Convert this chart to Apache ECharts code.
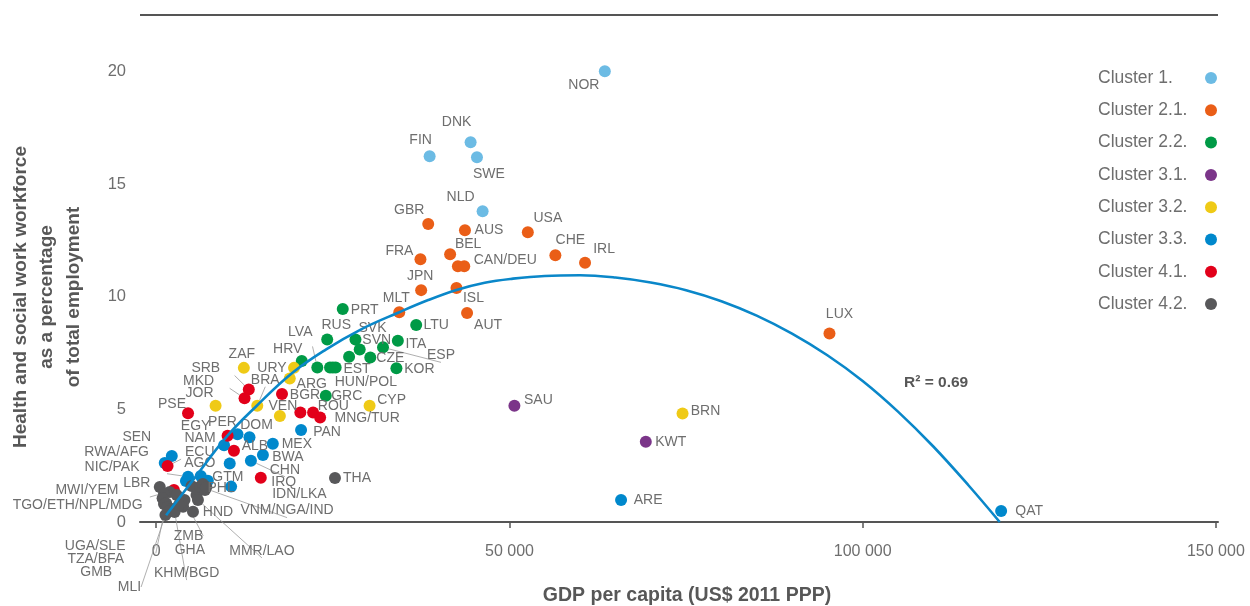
<!DOCTYPE html>
<html><head><meta charset="utf-8">
<script src="https://cdn.jsdelivr.net/npm/echarts@6/dist/echarts.min.js"></script>
<style>html,body{margin:0;padding:0;background:#fff}#c{width:1250px;height:606px}</style>
</head><body><div id="c"></div>
<script>
// ---------------- DATA ----------------
const clusterNames = ['Cluster 1.', 'Cluster 2.1.', 'Cluster 2.2.', 'Cluster 3.1.', 'Cluster 3.2.', 'Cluster 3.3.', 'Cluster 4.1.', 'Cluster 4.2.'];

const c1Codes = ['NOR', 'DNK', 'FIN', 'SWE', 'NLD'];
const c1Gdp   = [63500, 44500, 38700, 45400, 46200];
const c1Share = [20.0, 16.85, 16.23, 16.19, 13.79];

const c21Codes = ['GBR', 'AUS', 'USA', 'FRA', 'BEL', 'CAN', 'DEU', 'CHE', 'IRL', 'JPN', 'ISL', 'MLT', 'AUT', 'LUX'];
const c21Gdp   = [38500, 43700, 52600, 37400, 41600, 42700, 43600, 56500, 60700, 37500, 42500, 34400, 44000, 95300];
const c21Share = [13.22, 12.95, 12.86, 11.66, 11.88, 11.35, 11.35, 11.84, 11.51, 10.29, 10.38, 9.31, 9.27, 8.37];

const c22Codes = ['PRT', 'RUS', 'SVK', 'SVN', 'ITA', 'ESP', 'LTU', 'CZE', 'KOR', 'HRV', 'LVA', 'EST', 'HUN', 'POL', 'ISR', 'GRC'];
const c22Gdp   = [26400, 24200, 28200, 28800, 34200, 32100, 36800, 30300, 34000, 20600, 22800, 24600, 25000, 25400, 27300, 24000];
const c22Share = [9.45, 8.10, 8.10, 7.66, 8.04, 7.75, 8.74, 7.30, 6.82, 7.15, 6.86, 6.86, 6.86, 6.86, 7.33, 5.60];

const c31Codes = ['SAU', 'KWT'];
const c31Gdp   = [50700, 69300];
const c31Share = [5.16, 3.56];

const c32Codes = ['ZAF', 'URY', 'ARG', 'JOR', 'BRA', 'VEN', 'CYP', 'BRN'];
const c32Gdp   = [12400, 19500, 18900, 8400, 14300, 17500, 30200, 74500];
const c32Share = [6.84, 6.84, 6.37, 5.16, 5.16, 4.70, 5.16, 4.82];

const c33Codes = ['ARE', 'QAT', 'PAN', 'MEX', 'BWA', 'CHN', 'DOM', 'PER', 'NAM', 'ECU', 'AGO', 'GTM', 'PHL', 'SEN', 'RWA', 'PAK', 'NIC'];
const c33Gdp   = [65800, 119600, 20500, 16500, 15100, 13400, 13200, 11500, 9600, 10400, 6300, 7300, 10600, 2200, 1200, 4200, 4500];
const c33Share = [0.98, 0.49, 4.08, 3.47, 2.97, 2.72, 3.76, 3.89, 3.41, 2.60, 2.04, 1.83, 1.57, 2.93, 2.62, 1.82, 2.01];

const c41Codes = ['PSE', 'SRB', 'MKD', 'BGR', 'ROU', 'MNG', 'TUR', 'EGY', 'ALB', 'IRQ', 'AFG', 'YEM'];
const c41Gdp   = [4500, 13100, 12500, 17800, 20400, 22200, 23200, 10100, 11000, 14800, 1600, 2500];
const c41Share = [4.83, 5.88, 5.49, 5.68, 4.86, 4.86, 4.64, 3.83, 3.16, 1.96, 2.48, 1.42];

const c42Codes = ['LBR', 'MWI', 'ETH', 'TGO', 'NPL', 'MDG', 'UGA', 'SLE', 'TZA', 'BFA', 'GMB', 'MLI', 'KHM', 'BGD', 'ZMB', 'GHA', 'MMR', 'LAO', 'HND', 'VNM', 'NGA', 'IND', 'IDN', 'LKA', 'THA'];
const c42Gdp   = [500, 1900, 1100, 900, 2900, 1100, 1400, 1600, 3600, 2200, 1700, 1300, 3800, 2600, 4000, 3200, 5700, 5900, 5200, 5000, 6200, 6600, 6900, 7100, 25300];
const c42Share = [1.55, 1.33, 1.27, 1.05, 1.20, 0.80, 0.83, 0.67, 0.94, 0.58, 0.46, 0.31, 0.68, 0.44, 0.98, 0.75, 1.20, 0.98, 0.46, 1.60, 1.57, 1.69, 1.42, 1.55, 1.95];

// fitted curve
const trendGdp   = [1400, 5200, 10000, 14200, 19200, 24000, 29000, 34400, 38500, 42500, 46500, 50500, 55000, 60000, 65000, 70000, 75000, 80000, 85000, 90000, 95000, 100000, 105000, 110000, 115000, 119400];
const trendShare = [0.3, 1.86, 3.8, 5.15, 6.6, 7.65, 8.55, 9.31, 9.85, 10.3, 10.62, 10.8, 10.92, 10.95, 10.85, 10.63, 10.29, 9.8, 9.16, 8.36, 7.4, 6.26, 4.9, 3.35, 1.62, 0.0];

const xTicks = [0, 50000, 100000, 150000];
const yTicks = [0, 5, 10, 15, 20];
const r2Text = 'R\u00b2 = 0.69';

// ---------------- STYLE ----------------
const clusterColors = ['#6cbbe4', '#ea5e17', '#009a46', '#7b3589', '#efca16', '#0088cc', '#e2001a', '#58585a'];
const FONT = '"Liberation Sans", Arial, sans-serif';
const TXT = '#6e6e6e';

// label placement: code -> [text, dx, dy, leaderLine]
const labelSpec = {
  NOR:['NOR',-21,14], DNK:['DNK',-14,-20], FIN:['FIN',-9,-16], SWE:['SWE',12,17], NLD:['NLD',-22,-14],
  GBR:['GBR',-19,-14], AUS:['AUS',24,0], USA:['USA',20,-14], FRA:['FRA',-21,-8], BEL:['BEL',18,-10],
  DEU:['CAN/DEU',41,-6], CHE:['CHE',15,-15], IRL:['IRL',19,-14], JPN:['JPN',-1,-14], ISL:['ISL',17,10],
  MLT:['MLT',-3,-14], AUT:['AUT',21,12], LUX:['LUX',10,-19],
  PRT:['PRT',22,1], RUS:['RUS',9,-14], SVK:['SVK',17,-11], SVN:['SVN',17,-9], LTU:['LTU',20,0], ITA:['ITA',18,3],
  ESP:['ESP',58,8,true], CZE:['CZE',20,1], KOR:['KOR',23,1], HRV:['HRV',-14,-12], LVA:['LVA',-17,-35,true],
  EST:['EST',27,2], HUN:['HUN/POL',33,15], GRC:['GRC',21,0],
  SAU:['SAU',24,-6], KWT:['KWT',25,0],
  ZAF:['ZAF',-2,-14], URY:['URY',-22,0], ARG:['ARG',22,6], JOR:['JOR',-16,-13], BRA:['BRA',8,-26,true],
  VEN:['VEN',3,-10], CYP:['CYP',22,-6], BRN:['BRN',23,-2],
  ARE:['ARE',27,0], QAT:['QAT',28,0], PAN:['PAN',26,2], MEX:['MEX',24,0], BWA:['BWA',25,2], CHN:['CHN',34,9,true],
  DOM:['DOM',7,-12], PER:['PER',-15,-12], NAM:['NAM',-24,-7], ECU:['ECU',-30,-11,true], AGO:['AGO',-1,-13],
  GTM:['GTM',20,-4], PHL:['PHL',-10,2], SEN:['SEN',-35,-19], NIC:['NIC/PAK',-76,-10,true],
  PSE:['PSE',-16,-9], SRB:['SRB',-43,-21,true], MKD:['MKD',-46,-17,true], BGR:['BGR',23,1], ROU:['ROU',33,-6],
  TUR:['MNG/TUR',47,1], EGY:['EGY',-32,-10,true], ALB:['ALB',21,-5], IRQ:['IRQ',23,4],
  AFG:['RWA/AFG',-51,-14,true], YEM:['MWI/YEM',-87,0,true],
  THA:['THA',22,0], HND:['HND',25,1], LBR:['LBR',-23,-4], TGO:['TGO/ETH/NPL/MDG',-85,7],
  UGA:['UGA/SLE',-71,43,true], BFA:['TZA/BFA',-76,50], GMB:['GMB',-72,61], MLI:['MLI',-36,72,true],
  BGD:['KHM/BGD',12,61,true], ZMB:['ZMB',4,36,true], GHA:['GHA',11,45], LAO:['MMR/LAO',64,51,true],
  NGA:['VNM/NGA/IND',87,24,true], LKA:['IDN/LKA',93,7]
};

const clusters = [
  [c1Codes, c1Gdp, c1Share], [c21Codes, c21Gdp, c21Share], [c22Codes, c22Gdp, c22Share],
  [c31Codes, c31Gdp, c31Share], [c32Codes, c32Gdp, c32Share], [c33Codes, c33Gdp, c33Share],
  [c41Codes, c41Gdp, c41Share], [c42Codes, c42Gdp, c42Share]
];

function buildData(codes, gdp, share) {
  return codes.map((c, i) => {
    const item = { name: c, value: [gdp[i], share[i]] };
    const s = labelSpec[c];
    if (s) {
      item.label = { show: true, formatter: s[0], offset: [s[1], s[2]] };
      if (s[3]) item.labelLine = { show: true };
    }
    return item;
  });
}

const series = clusters.map((cl, k) => ({
  name: clusterNames[k],
  type: 'scatter',
  symbol: 'circle',
  symbolSize: 12,
  itemStyle: { color: clusterColors[k], opacity: 1 },
  label: { show: false, position: 'inside', color: TXT, fontSize: 14, fontFamily: FONT },
  labelLine: { show: false, lineStyle: { color: '#9a9a9a', width: 0.8 }, smooth: false },
  emphasis: { disabled: true },
  z: 3,
  data: buildData(cl[0], cl[1], cl[2])
}));

series.push({
  name: 'trend',
  type: 'line',
  smooth: 0.4,
  showSymbol: false,
  symbol: 'none',
  lineStyle: { color: '#0a87c9', width: 2.6 },
  z: 5,
  silent: true,
  data: trendGdp.map((g, i) => [g, trendShare[i]])
});

const chart = echarts.init(document.getElementById('c'), null, { renderer: 'canvas' });
chart.setOption({
  animation: false,
  backgroundColor: '#ffffff',
  textStyle: { fontFamily: FONT },
  grid: { left: 140, right: 32, top: 15, bottom: 84 },
  xAxis: {
    type: 'value', min: -2300, max: 150300,
    axisLine: { show: true, lineStyle: { color: '#555', width: 2 } },
    axisTick: { show: true, customValues: xTicks, length: 6, lineStyle: { color: '#555', width: 1.5 } },
    axisLabel: { customValues: xTicks, color: TXT, fontSize: 16, margin: 22, fontFamily: FONT,
      formatter: v => v === 0 ? '0' : (v / 1000) + ' 000' },
    splitLine: { show: false }
  },
  yAxis: {
    type: 'value', min: 0, max: 22.5,
    axisLine: { show: false }, axisTick: { show: false },
    axisLabel: { customValues: yTicks, color: TXT, fontSize: 16.5, margin: 14, fontFamily: FONT },
    splitLine: { show: false }
  },
  legend: {
    data: clusterNames,
    orient: 'vertical', right: 28, top: 63, align: 'right',
    icon: 'circle', itemWidth: 12, itemHeight: 12, itemGap: 12.3,
    selectedMode: false,
    formatter: name => '{t|' + name + '}',
    textStyle: { color: TXT, fontSize: 17.5, fontFamily: FONT, lineHeight: 20, padding: [0, 10, 0, 0],
      rich: { t: { width: 92, align: 'left', color: TXT, fontSize: 17.5, fontFamily: FONT, lineHeight: 20 } } }
  },
  graphic: [
    { type: 'line', shape: { x1: 140, y1: 15, x2: 1218, y2: 15 }, style: { stroke: '#555', lineWidth: 2 }, silent: true },
    { type: 'text', x: 47, y: 297, rotation: Math.PI / 2, silent: true,
      style: { text: 'Health and social work workforce\nas a percentage\nof total employment',
        font: 'bold 19px ' + FONT, fill: '#575757', align: 'center', verticalAlign: 'middle', lineHeight: 26.5 } },
    { type: 'text', x: 687, y: 596, silent: true,
      style: { text: 'GDP per capita (US$ 2011 PPP)', font: 'bold 19.5px ' + FONT, fill: '#575757', align: 'center', verticalAlign: 'middle' } },
    { type: 'text', x: 904, y: 383, silent: true,
      style: { text: r2Text, font: 'bold 15.5px ' + FONT, fill: '#575757', align: 'left', verticalAlign: 'middle' } }
  ],
  series: series
});
</script>
</body></html>
